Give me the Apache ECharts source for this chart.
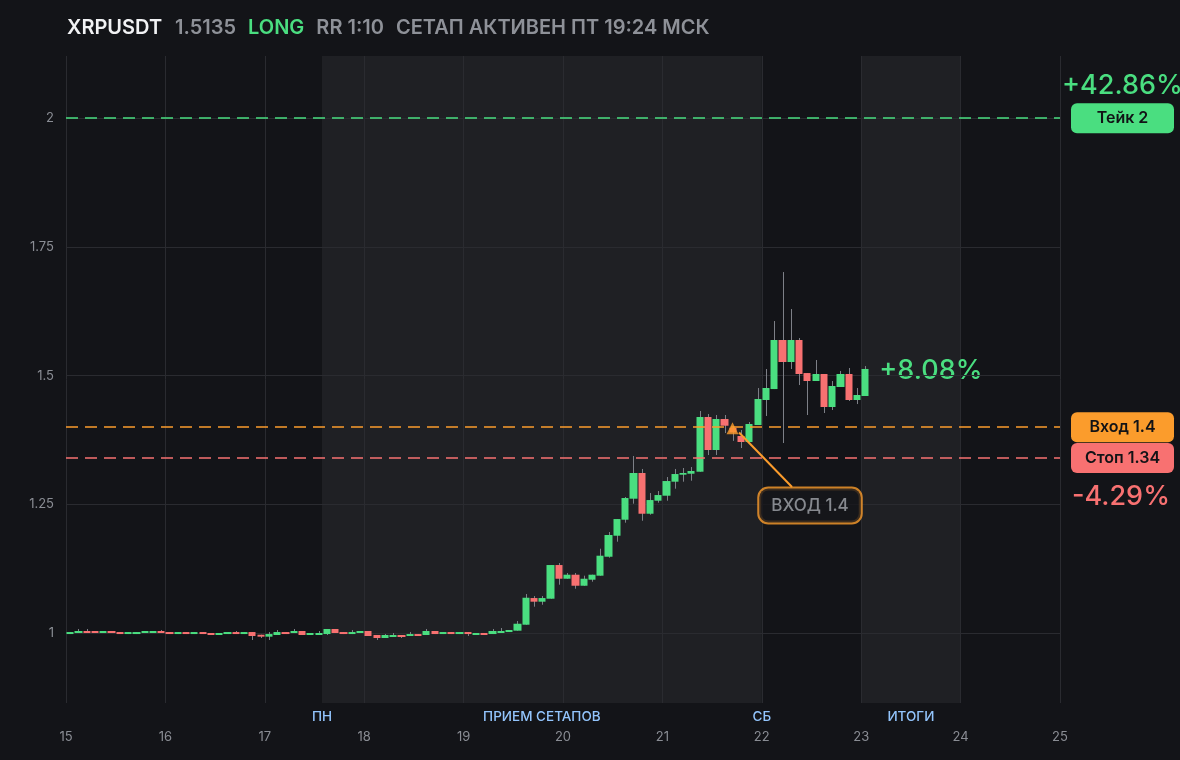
<!DOCTYPE html>
<html><head><meta charset="utf-8">
<script src="https://cdn.jsdelivr.net/npm/echarts@6/dist/echarts.min.js"></script>
<style>html,body{margin:0;padding:0;background:#131418;}#c{width:1180px;height:760px;}</style>
</head><body><div id="c"></div>
<script>
// ---- header texts ----
const ticker = 'XRPUSDT';
const lastPriceText = '1.5135';
const sideText = 'LONG';
const rrText = 'RR 1:10';
const statusText = 'СЕТАП АКТИВЕН ПТ 19:24 МСК';

// ---- axes ----
const xTicks = [15, 16, 17, 18, 19, 20, 21, 22, 23, 24, 25];
const yTicks = [1, 1.25, 1.5, 1.75, 2];
const xMin = 15, xMax = 25;
const yMin = 0.8645, yMax = 2.1208;
const startDay = 15, candlesPerDay = 12; // 2h candles

// ---- candles (OHLC) ----
const open = [0.9984,1.0004,1.0043,1.0043,1.0004,1.0043,1.0023,0.9984,0.9984,1.0004,1.0004,1.0043,1.0023,0.9984,1.0023,0.9984,1.0023,1.0004,0.9965,0.9984,1.0023,0.9984,1.0023,0.9971,0.9933,0.9965,1.0023,1.0004,1.0043,0.9965,0.9965,0.9984,1.0082,1.0023,0.9984,1.0004,1.0043,0.9965,0.9907,0.9926,0.9965,0.9946,0.9984,0.9965,1.0043,0.9984,1.0023,0.9984,1.0023,0.9965,1.0004,0.9984,1.0004,1.0023,1.0049,1.0165,1.0683,1.0612,1.0670,1.1324,1.1058,1.1136,1.0922,1.1039,1.1117,1.1485,1.1893,1.2204,1.2612,1.3111,1.2320,1.2573,1.2670,1.2942,1.3078,1.3097,1.3136,1.4198,1.3557,1.4159,1.3990,1.3829,1.3713,1.4043,1.4528,1.4741,1.5693,1.5266,1.5693,1.5052,1.4897,1.5033,1.4392,1.4781,1.5033,1.4528,1.4606];
const close = [1.0023,1.0043,1.0004,1.0004,1.0043,1.0004,0.9984,1.0023,1.0023,1.0043,1.0043,1.0004,0.9984,1.0023,0.9984,1.0023,0.9984,0.9965,1.0004,1.0023,0.9984,1.0023,0.9946,0.9933,0.9984,1.0023,0.9984,1.0043,0.9965,1.0004,1.0004,1.0082,1.0004,0.9984,1.0023,1.0043,0.9946,0.9907,0.9965,0.9965,0.9926,0.9984,0.9946,1.0043,0.9984,1.0023,0.9984,1.0023,0.9984,1.0004,0.9965,1.0043,1.0043,1.0062,1.0184,1.0689,1.0612,1.0683,1.1324,1.1058,1.1136,1.0922,1.1058,1.1136,1.1505,1.1907,1.2217,1.2625,1.3111,1.2320,1.2586,1.2683,1.2955,1.3091,1.3111,1.3150,1.4198,1.3557,1.4159,1.4029,1.3900,1.3713,1.4062,1.4548,1.4761,1.5693,1.5266,1.5693,1.5033,1.4897,1.5033,1.4392,1.4800,1.5033,1.4528,1.4625,1.5131];
const low = [0.9984,1.0004,1.0004,1.0004,1.0004,1.0004,0.9984,0.9984,0.9984,1.0004,1.0004,1.0004,0.9984,0.9984,0.9984,0.9984,0.9984,0.9965,0.9965,0.9984,0.9984,0.9984,0.9868,0.9907,0.9868,0.9965,0.9984,1.0004,0.9965,0.9965,0.9965,0.9965,1.0004,0.9984,0.9984,1.0004,0.9946,0.9868,0.9907,0.9926,0.9907,0.9946,0.9946,0.9965,0.9984,0.9984,0.9984,0.9984,0.9946,0.9965,0.9965,0.9984,1.0004,1.0023,1.0049,1.0165,1.0515,1.0553,1.0670,1.0942,1.1058,1.0864,1.0922,1.1000,1.1117,1.1466,1.1777,1.2146,1.2515,1.2184,1.2301,1.2534,1.2573,1.2806,1.2942,1.2961,1.3136,1.3460,1.3460,1.3887,1.3735,1.3596,1.3713,1.4043,1.4218,1.4741,1.3693,1.5130,1.4819,1.4237,1.4897,1.4276,1.4334,1.4781,1.4509,1.4450,1.4606];
const high = [1.0023,1.0082,1.0082,1.0043,1.0043,1.0043,1.0023,1.0023,1.0023,1.0043,1.0043,1.0062,1.0023,1.0023,1.0023,1.0023,1.0023,1.0004,1.0004,1.0023,1.0043,1.0023,1.0023,0.9971,1.0023,1.0062,1.0023,1.0082,1.0043,1.0004,1.0043,1.0082,1.0082,1.0023,1.0062,1.0043,1.0043,0.9965,0.9984,1.0004,0.9965,1.0023,0.9984,1.0082,1.0043,1.0023,1.0023,1.0023,1.0023,1.0004,1.0004,1.0082,1.0101,1.0062,1.0237,1.0761,1.0722,1.0722,1.1324,1.1363,1.1169,1.1169,1.1117,1.1136,1.1641,1.1965,1.2217,1.2645,1.3441,1.3189,1.2722,1.2761,1.3033,1.3189,1.3208,1.3227,1.4315,1.4256,1.4237,1.4237,1.4020,1.3946,1.4101,1.4761,1.5130,1.6062,1.7013,1.6295,1.5732,1.5052,1.5305,1.5033,1.4897,1.5092,1.5150,1.4761,1.5188];

// ---- trade levels ----
const takePrice = 2, entryPrice = 1.4, stopPrice = 1.34;
const takeLabel = 'Тейк 2', entryLabel = 'Вход 1.4', stopLabel = 'Стоп 1.34';
const takePct = '+42.86%', stopPct = '-4.29%', nowPct = '+8.08%';
const entryMarker = [21.705, 1.398];
const noteText = 'ВХОД 1.4';
const notePoint = [22.485, 1.248];
const noteLine = [[21.771, 1.3897], [22.304, 1.2839]];

// ---- zones ----
const zoneFrom = [17.575, 23];
const zoneTo = [22, 24];
const zoneNames = ['ПРИЕМ СЕТАПОВ', 'ИТОГИ'];
const dayMarkX = [17.575, 22];
const dayMarkNames = ['ПН', 'СБ'];

const GREEN = '#4ade80', RED = '#f87171', ORANGE = '#fb9c2c', GRAY = '#8a8d94', GRID = '#2a2b30', WICK = '#7d8087';
const FONT = 'Inter, "Noto Sans", sans-serif';

const xs = open.map((_, i) => startDay + (i + 0.5) / candlesPerDay);
const bodyData = open.map((o, i) => [xs[i], o, close[i], Math.min(o, close[i]), Math.max(o, close[i])]);
const wickData = open.map((o, i) => [xs[i], low[i], high[i]]);

const chart = echarts.init(document.getElementById('c'));

function boxLabel(text, bg) {
  return {
    show: true, position: 'end', distance: 11,
    formatter: '{b|' + text + '}',
    rich: { b: { backgroundColor: bg, borderRadius: 6, width: 103, height: 30, lineHeight: 30, align: 'center',
      color: '#121316', fontSize: 16, fontWeight: 600, fontFamily: FONT } }
  };
}
const hdr = (color, gap) => ({ color: color, fontSize: 20, fontWeight: 600, lineHeight: 24, padding: [0, gap, 0, 0], fontFamily: FONT });

const option = {
  backgroundColor: '#131418',
  animation: false,
  textStyle: { fontFamily: FONT },
  title: {
    left: 67, top: 16, padding: 0,
    text: '{t|' + ticker + '}{g|' + lastPriceText + '}{l|' + sideText + '}{g|' + rrText + '}{s|' + statusText + '}',
    textStyle: { rich: { t: hdr('#f1f2f4', 13), g: hdr('#8e9198', 12), l: hdr(GREEN, 12), s: hdr('#8e9198', 0) } }
  },
  grid: { left: 66, right: 120, top: 56, bottom: 57 },
  xAxis: {
    type: 'value', min: xMin, max: xMax, interval: 1,
    axisLine: { show: false }, axisTick: { show: false },
    axisLabel: { color: GRAY, fontSize: 13, margin: 28, fontFamily: FONT },
    splitLine: { show: true, lineStyle: { color: GRID, width: 1 } }
  },
  yAxis: {
    type: 'value', min: yMin, max: yMax,
    axisLine: { show: false }, axisTick: { show: false },
    axisLabel: { color: GRAY, fontSize: 13, margin: 12, customValues: yTicks, fontFamily: FONT },
    splitLine: { show: false }
  },
  series: [
    {
      type: 'line', data: [], silent: true,
      markArea: {
        silent: true, z: -1, itemStyle: { color: '#1f2024' },
        data: zoneFrom.map((f, i) => [{ xAxis: f }, { xAxis: zoneTo[i] }])
      },
      markLine: {
        silent: true, z: 1, symbol: ['none', 'none'], animation: false,
        label: { show: false },
        lineStyle: { color: GRID, type: 'solid', width: 1 },
        data: yTicks.map(v => ({ yAxis: v }))
      }
    },
    {
      type: 'custom', z: 2, silent: true,
      encode: { x: 0, y: [1, 2] },
      data: wickData,
      renderItem: (params, api) => {
        const p1 = api.coord([api.value(0), api.value(1)]);
        const p2 = api.coord([api.value(0), api.value(2)]);
        const x = Math.round(p1[0]) + 0.5;
        return { type: 'line', shape: { x1: x, y1: p1[1], x2: x, y2: p2[1] }, style: { stroke: WICK, lineWidth: 1 } };
      }
    },
    {
      type: 'candlestick', z: 3, silent: true, barWidth: 7.7,
      encode: { x: 0, y: [1, 2, 3, 4] },
      itemStyle: { color: GREEN, color0: RED, borderColor: GREEN, borderColor0: RED, borderWidth: 0 },
      data: bodyData
    },
    {
      type: 'line', data: [], silent: true,
      markLine: {
        silent: true, symbol: ['none', 'none'], animation: false,
        lineStyle: { type: [12, 7], width: 1.7 },
        data: [
          { yAxis: takePrice, lineStyle: { color: GREEN }, label: boxLabel(takeLabel, GREEN) },
          { yAxis: entryPrice, lineStyle: { color: ORANGE }, label: boxLabel(entryLabel, ORANGE) },
          { yAxis: stopPrice, lineStyle: { color: RED }, label: boxLabel(stopLabel, RED) }
        ]
      }
    },
    {
      type: 'scatter', z: 6, silent: true, symbol: 'triangle', symbolSize: 12,
      itemStyle: { color: ORANGE },
      data: [entryMarker]
    },
    {
      type: 'scatter', z: 8, silent: true, symbolSize: 0,
      data: [notePoint],
      label: {
        show: true, position: 'inside', formatter: noteText,
        color: '#a3a6ad', fontSize: 17, fontWeight: 500, fontFamily: FONT,
        backgroundColor: '#16171b', borderColor: ORANGE, borderWidth: 2, borderRadius: 9,
        padding: [9, 12, 8, 12]
      },
      markLine: {
        silent: true, z: 7, symbol: ['none', 'none'], animation: false,
        label: { show: false },
        lineStyle: { color: ORANGE, type: 'solid', width: 2 },
        data: [[{ coord: noteLine[0] }, { coord: noteLine[1] }]]
      }
    }
  ]
};
chart.setOption(option);

// overlay texts anchored through the chart's own scales
const px = v => chart.convertToPixel({ gridIndex: 0 }, v);
const takePx = px([xMax, takePrice]);
const stopPx = px([xMax, stopPrice]);
const lastPx = px([xs[xs.length - 1], close[close.length - 1]]);
const bottomY = px([xMin, yMin])[1];
const bigText = (x, y, text, color) => ({
  type: 'text', x: x, y: y, silent: true,
  style: { text: text, fill: color, fontSize: 27, fontWeight: 500, fontFamily: FONT, textVerticalAlign: 'middle', textAlign: 'left' }
});
const zoneText = (x, text) => ({
  type: 'text', x: x, y: bottomY + 14, silent: true,
  style: { text: text, fill: '#93c5fd', fontSize: 13.5, fontWeight: 500, fontFamily: FONT, textVerticalAlign: 'middle', textAlign: 'center' }
});
const graphics = [
  bigText(takePx[0] + 2, takePx[1] - 32, takePct, GREEN),
  bigText(stopPx[0] + 12, stopPx[1] + 39, stopPct, RED),
  bigText(lastPx[0] + 14, lastPx[1] + 2, nowPct, GREEN)
];
zoneNames.forEach((n, i) => graphics.push(zoneText(px([(zoneFrom[i] + zoneTo[i]) / 2, yMin])[0], n)));
dayMarkNames.forEach((n, i) => graphics.push(zoneText(px([dayMarkX[i], yMin])[0], n)));
chart.setOption({ graphic: graphics });
</script>
</body></html>
